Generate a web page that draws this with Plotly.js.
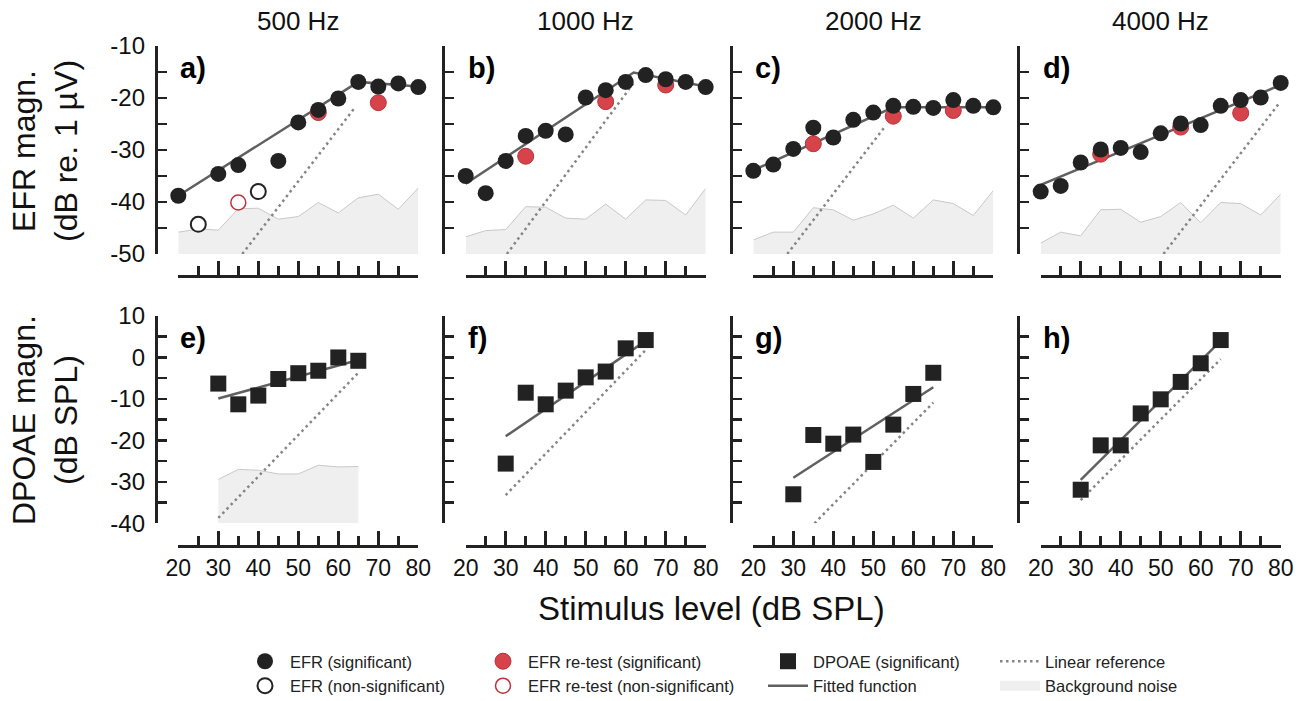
<!DOCTYPE html>
<html>
<head>
<meta charset="utf-8">
<script src="https://cdn.plot.ly/plotly-3.0.1.min.js"></script>
<style>html,body{margin:0;padding:0;background:#fff;}#chart{width:1308px;height:701px;}</style>
</head>
<body>
<div id="chart"></div>
<script>
// ---------------- DATA ----------------
const freqTitles = ['500 Hz', '1000 Hz', '2000 Hz', '4000 Hz'];
const panelLabels = ['a)', 'b)', 'c)', 'd)', 'e)', 'f)', 'g)', 'h)'];

const efrLevels = [20, 25, 30, 35, 40, 45, 50, 55, 60, 65, 70, 75, 80];
const retestLevels = [35, 55, 70];
const dpLevels = [30, 35, 40, 45, 50, 55, 60, 65];

// EFR (significant) per frequency
const efrSig500  = [-38.8, null, -34.6, -32.9, null, -32.1, -24.7, -22.3, -20.1, -16.9, -17.8, -17.2, -17.9];
const efrSig1000 = [-35.0, -38.3, -32.1, -27.3, -26.3, -27.0, -19.9, -18.5, -16.9, -15.6, -16.4, -16.9, -17.9];
const efrSig2000 = [-34.0, -32.8, -29.8, -25.7, -27.6, -24.2, -22.8, -21.5, -21.7, -21.9, -20.4, -21.5, -21.8];
const efrSig4000 = [-38.0, -36.9, -32.4, -29.9, -29.6, -30.4, -26.8, -24.9, -25.2, -21.5, -20.4, -19.9, -17.1];
// EFR (non-significant)
const efrNon500  = [null, -44.3, null, null, -38.0, null, null, null, null, null, null, null, null];
const efrNon1000 = [null, null, null, null, null, null, null, null, null, null, null, null, null];
const efrNon2000 = [null, null, null, null, null, null, null, null, null, null, null, null, null];
const efrNon4000 = [null, null, null, null, null, null, null, null, null, null, null, null, null];
// EFR re-test
const reSig500  = [null, -22.8, -20.9];
const reSig1000 = [-31.2, -20.7, -17.5];
const reSig2000 = [-28.8, -23.5, -22.4];
const reSig4000 = [-30.8, -25.6, -22.9];
const reNon500  = [-40.1, null, null];
const reNon1000 = [null, null, null];
const reNon2000 = [null, null, null];
const reNon4000 = [null, null, null];
// EFR fitted functions
const efrFitX500 = [20, 65, 80],  efrFitY500 = [-38.8, -16.9, -17.8];
const efrFitX1000 = [20, 62, 80], efrFitY1000 = [-36.5, -15.1, -17.8];
const efrFitX2000 = [20, 55, 80], efrFitY2000 = [-33.9, -21.8, -21.8];
const efrFitX4000 = [20, 80],     efrFitY4000 = [-36.7, -17.5];
// EFR linear references
const efrLinX500 = [36.0, 64.3],  efrLinY500 = [-50, -21.7];
const efrLinX1000 = [30.3, 61.9], efrLinY1000 = [-50, -17.2];
const efrLinX2000 = [28.5, 52.9], efrLinY2000 = [-50, -25.5];
const efrLinX4000 = [50.7, 79.7], efrLinY4000 = [-50, -20.9];
// EFR background noise
const efrNoise500  = [-45.8, -45.2, -45.4, -41.3, -41.2, -43.3, -42.8, -40.1, -42.1, -39.2, -38.5, -41.4, -37.3];
const efrNoise1000 = [-46.7, -45.5, -45.3, -40.9, -41.0, -43.1, -43.3, -40.4, -43.3, -39.6, -39.7, -42.5, -37.4];
const efrNoise2000 = [-47.3, -45.8, -45.8, -41.1, -41.5, -43.5, -42.3, -40.6, -43.1, -39.6, -40.3, -42.6, -37.8];
const efrNoise4000 = [-47.9, -45.8, -46.5, -41.5, -41.4, -43.9, -42.8, -40.1, -44.0, -40.1, -40.3, -42.5, -38.5];

// DPOAE (significant)
const dp500  = [-6.3, -11.3, -9.2, -5.2, -3.8, -3.2, 0.0, -0.8];
const dp1000 = [-25.6, -8.5, -11.3, -8.0, -4.8, -3.4, 2.2, 4.2];
const dp2000 = [-33.0, -18.7, -20.8, -18.6, -25.2, -16.2, -8.8, -3.7];
const dp4000 = [-31.9, -21.2, -21.2, -13.5, -10.1, -5.9, -1.4, 4.2];
// DPOAE fits
const dpFitX = [30, 65];
const dpFitY500 = [-9.9, -0.6];
const dpFitY1000 = [-19.0, 4.0];
const dpFitY2000 = [-29.0, -7.2];
const dpFitY4000 = [-29.5, 4.0];
// DPOAE linear references
const dpLinX500 = [30, 65],   dpLinY500 = [-38.7, -3.7];
const dpLinX1000 = [30, 65],  dpLinY1000 = [-33.2, 1.8];
const dpLinX2000 = [35.3, 65], dpLinY2000 = [-40, -10.9];
const dpLinX4000 = [30, 65],  dpLinY4000 = [-34.4, -0.4];
// DPOAE background noise (500 Hz only)
const dpNoise500 = [-29.4, -27.0, -27.2, -28.1, -28.1, -26.0, -26.4, -26.3];

// axis ticks
const xTickVals = [20, 30, 40, 50, 60, 70, 80];
const xTickText = ['20', '30', '40', '50', '60', '70', '80'];
const xMinorVals = [25, 35, 45, 55, 65, 75];
const efrTickVals = [-50, -40, -30, -20, -10];
const efrTickText = ['-50', '-40', '-30', '-20', '-10'];
const efrMinorVals = [-45, -35, -25, -15];
const dpTickVals = [-40, -30, -20, -10, 0, 10];
const dpTickText = ['-40', '-30', '-20', '-10', '0', '10'];
const dpMinorVals = [-35, -25, -15, -5, 5];
const efrRange = [-50, -10];
const dpRange = [-40, 10];
const xRange = [20, 80];

const legendNames = ['EFR (significant)', 'EFR (non-significant)', 'EFR re-test (significant)',
  'EFR re-test (non-significant)', 'DPOAE (significant)', 'Fitted function', 'Linear reference', 'Background noise'];

// ---------------- STYLE / LAYOUT ----------------
const W = 1308, H = 701;
const FONT = 'Liberation Sans, Arial, Helvetica, sans-serif';
const INK = '#222222';
const RED = '#d6434b';
const colX0 = [178.3, 465.7, 753.3, 1040.7];
const plotW = 240;
const rowTop = [46, 316], rowBot = [254, 523.3];
const xSpineY = [276, 546];
const spineOff = 22.5;

const efrSig = [efrSig500, efrSig1000, efrSig2000, efrSig4000];
const efrNon = [efrNon500, efrNon1000, efrNon2000, efrNon4000];
const reSig = [reSig500, reSig1000, reSig2000, reSig4000];
const reNon = [reNon500, reNon1000, reNon2000, reNon4000];
const efrFitX = [efrFitX500, efrFitX1000, efrFitX2000, efrFitX4000];
const efrFitY = [efrFitY500, efrFitY1000, efrFitY2000, efrFitY4000];
const efrLinX = [efrLinX500, efrLinX1000, efrLinX2000, efrLinX4000];
const efrLinY = [efrLinY500, efrLinY1000, efrLinY2000, efrLinY4000];
const efrNoise = [efrNoise500, efrNoise1000, efrNoise2000, efrNoise4000];
const dpVals = [dp500, dp1000, dp2000, dp4000];
const dpFitY = [dpFitY500, dpFitY1000, dpFitY2000, dpFitY4000];
const dpLinX = [dpLinX500, dpLinX1000, dpLinX2000, dpLinX4000];
const dpLinY = [dpLinY500, dpLinY1000, dpLinY2000, dpLinY4000];
const dpNoise = [dpNoise500, null, null, null];

const traces = [];
const layout = {
  width: W, height: H,
  margin: {l: 0, r: 0, t: 0, b: 0, autoexpand: false},
  paper_bgcolor: '#ffffff', plot_bgcolor: 'rgba(0,0,0,0)',
  font: {family: FONT, color: INK, size: 16},
  showlegend: true,
  annotations: [], shapes: []
};

function axId(i) { return i === 0 ? '' : String(i + 1); }

const fitLine = {color: '#606060', width: 2.5};
const linLine = {color: '#858585', width: 2.5, dash: '2.5px,3.5px'};
const noiseLine = {color: '#c8c8c8', width: 1};
const noiseFill = '#efefef';

function addNoise(xs, ys, floorVal, xa, ya) {
  traces.push({x: xs, y: xs.map(() => floorVal), xaxis: xa, yaxis: ya, mode: 'lines',
    line: {width: 0, color: 'rgba(0,0,0,0)'}, showlegend: false, hoverinfo: 'skip'});
  traces.push({x: xs, y: ys, xaxis: xa, yaxis: ya, mode: 'lines', fill: 'tonexty',
    fillcolor: noiseFill, line: noiseLine, name: legendNames[7],
    showlegend: false, hoverinfo: 'skip'});
}

for (let i = 0; i < 8; i++) {
  const r = Math.floor(i / 4), c = i % 4;
  const id = axId(i);
  const xa = 'x' + id, ya = 'y' + id;
  const first = (i === 0);
  const isEfr = (r === 0);

  layout['xaxis' + id] = {
    domain: [colX0[c] / W, (colX0[c] + plotW) / W],
    range: xRange, anchor: 'free', position: 1 - xSpineY[r] / H,
    showline: true, linecolor: INK, linewidth: 3,
    ticks: 'inside', ticklen: 14, tickwidth: 2.5, tickcolor: INK,
    tickmode: 'array', tickvals: xTickVals, ticktext: xTickText,
    showticklabels: r === 1, tickfont: {size: 23, family: FONT, color: '#111'},
    minor: {tickmode: 'array', tickvals: xMinorVals, ticks: 'inside', ticklen: 9, tickwidth: 2.5, tickcolor: INK},
    showgrid: false, zeroline: false, fixedrange: true
  };
  layout['yaxis' + id] = {
    domain: [1 - rowBot[r] / H, 1 - rowTop[r] / H],
    range: isEfr ? efrRange : dpRange, anchor: 'free', position: (colX0[c] - spineOff) / W,
    showline: true, linecolor: INK, linewidth: 3,
    ticks: 'inside', ticklen: 9, tickwidth: 2.5, tickcolor: INK,
    tickmode: 'array', tickvals: isEfr ? efrTickVals : dpTickVals, ticktext: isEfr ? efrTickText : dpTickText,
    showticklabels: c === 0, tickfont: {size: 24, family: FONT, color: '#111'},
    ticklabelstandoff: 5,
    minor: {tickmode: 'array', tickvals: isEfr ? efrMinorVals : dpMinorVals, ticks: 'inside', ticklen: 9, tickwidth: 2.5, tickcolor: INK},
    showgrid: false, zeroline: false, fixedrange: true
  };

  if (isEfr) {
    addNoise(efrLevels, efrNoise[c], efrRange[0], xa, ya);
    traces.push({x: efrLinX[c], y: efrLinY[c], xaxis: xa, yaxis: ya, mode: 'lines', line: linLine,
      name: legendNames[6], showlegend: first, legend: 'legend4', legendrank: 1, hoverinfo: 'skip'});
    traces.push({x: efrFitX[c], y: efrFitY[c], xaxis: xa, yaxis: ya, mode: 'lines', line: fitLine,
      name: legendNames[5], showlegend: first, legend: 'legend3', legendrank: 2, hoverinfo: 'skip'});
    traces.push({x: retestLevels, y: reNon[c], xaxis: xa, yaxis: ya, mode: 'markers', cliponaxis: false,
      marker: {symbol: 'circle', size: 15, color: '#ffffff', line: {color: '#c0313a', width: 1.5}},
      name: legendNames[3], showlegend: first, legend: 'legend2', legendrank: 2});
    traces.push({x: retestLevels, y: reSig[c], xaxis: xa, yaxis: ya, mode: 'markers', cliponaxis: false,
      marker: {symbol: 'circle', size: 16, color: RED, line: {color: '#b8333b', width: 1}},
      name: legendNames[2], showlegend: first, legend: 'legend2', legendrank: 1});
    traces.push({x: efrLevels, y: efrNon[c], xaxis: xa, yaxis: ya, mode: 'markers', cliponaxis: false,
      marker: {symbol: 'circle', size: 15, color: '#ffffff', line: {color: INK, width: 2}},
      name: legendNames[1], showlegend: first, legend: 'legend', legendrank: 2});
    traces.push({x: efrLevels, y: efrSig[c], xaxis: xa, yaxis: ya, mode: 'markers', cliponaxis: false,
      marker: {symbol: 'circle', size: 16, color: INK, line: {color: INK, width: 0}},
      name: legendNames[0], showlegend: first, legend: 'legend', legendrank: 1});
  } else {
    if (dpNoise[c]) addNoise(dpLevels, dpNoise[c], dpRange[0], xa, ya);
    traces.push({x: dpLinX[c], y: dpLinY[c], xaxis: xa, yaxis: ya, mode: 'lines', line: linLine,
      showlegend: false, hoverinfo: 'skip'});
    traces.push({x: dpFitX, y: dpFitY[c], xaxis: xa, yaxis: ya, mode: 'lines', line: fitLine,
      showlegend: false, hoverinfo: 'skip'});
    traces.push({x: dpLevels, y: dpVals[c], xaxis: xa, yaxis: ya, mode: 'markers', cliponaxis: false,
      marker: {symbol: 'square', size: 16, color: INK, line: {color: INK, width: 0}},
      name: legendNames[4], showlegend: i === 4, legend: 'legend3', legendrank: 1});
  }

  // panel letter
  layout.annotations.push({text: '<b>' + panelLabels[i] + '</b>', xref: 'paper', yref: 'paper',
    x: (colX0[c] + 0) / W, y: 1 - (rowTop[r] + 22) / H, xanchor: 'left', yanchor: 'middle',
    showarrow: false, font: {size: 29, family: FONT, color: '#000'}});
}

// legend-only entry for the background noise swatch (wide filled box)
traces.push({x: [null], y: [null], xaxis: 'x', yaxis: 'y', mode: 'lines',
  line: {color: noiseFill, width: 16}, name: legendNames[7], showlegend: true,
  legend: 'legend4', legendrank: 2, hoverinfo: 'skip'});

// column titles
for (let c = 0; c < 4; c++) {
  layout.annotations.push({text: freqTitles[c], xref: 'paper', yref: 'paper',
    x: (colX0[c] + plotW / 2) / W, y: 1 - 21 / H, xanchor: 'center', yanchor: 'middle',
    showarrow: false, font: {size: 26, family: FONT, color: '#111'}});
}
// y titles
layout.annotations.push({text: 'EFR magn.<br>(dB re. 1 µV)', xref: 'paper', yref: 'paper',
  x: 45 / W, y: 1 - 151 / H, xanchor: 'center', yanchor: 'middle', textangle: -90,
  showarrow: false, font: {size: 32, family: FONT, color: '#111'}});
layout.annotations.push({text: 'DPOAE magn.<br>(dB SPL)', xref: 'paper', yref: 'paper',
  x: 45 / W, y: 1 - 420 / H, xanchor: 'center', yanchor: 'middle', textangle: -90,
  showarrow: false, font: {size: 32, family: FONT, color: '#111'}});
// x title
layout.annotations.push({text: 'Stimulus level (dB SPL)', xref: 'paper', yref: 'paper',
  x: 711 / W, y: 1 - 608 / H, xanchor: 'center', yanchor: 'middle',
  showarrow: false, font: {size: 33, family: FONT, color: '#111'}});

// legends (4 columns, 2 rows each)
const legCols = [240, 478, 763, 995];
const legBase = {y: 1 - 644 / H, xanchor: 'left', yanchor: 'top', orientation: 'v',
  font: {size: 16.5, family: FONT, color: '#222'}, bgcolor: 'rgba(0,0,0,0)', borderwidth: 0,
  itemwidth: 40, tracegroupgap: 0, itemclick: false, itemdoubleclick: false, traceorder: 'normal'};
layout.legend  = Object.assign({}, legBase, {x: legCols[0] / W});
layout.legend2 = Object.assign({}, legBase, {x: legCols[1] / W});
layout.legend3 = Object.assign({}, legBase, {x: legCols[2] / W});
layout.legend4 = Object.assign({}, legBase, {x: legCols[3] / W});

Plotly.newPlot('chart', traces, layout, {staticPlot: true, displayModeBar: false});
</script>
</body>
</html>
